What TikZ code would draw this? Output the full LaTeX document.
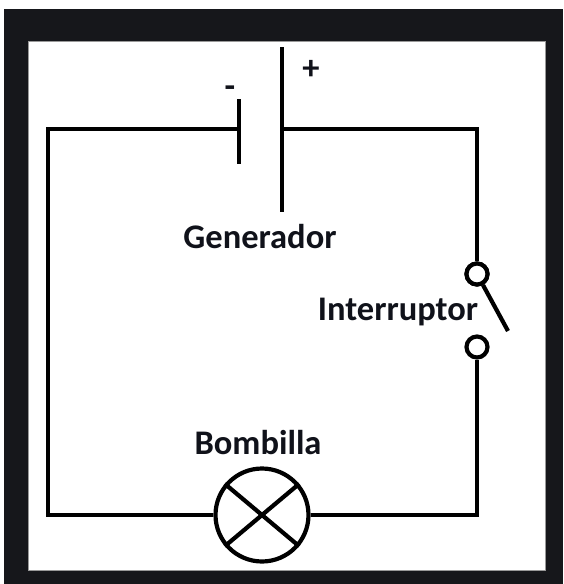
\documentclass[tikz,border=0pt]{standalone}
\usepackage{fontspec}
\setmainfont{Carlito}
\definecolor{framecol}{HTML}{16171B}
\definecolor{textcol}{HTML}{10121A}
\begin{document}
\begin{tikzpicture}[x=1pt,y=-1pt]
\tikzset{
  wire/.style={draw=black, line width=4.2pt, line join=miter},
  label/.style={font=\fontsize{34.5}{38}\selectfont\bfseries, text=textcol, inner sep=0pt, anchor=base},
  terminal/.style={circle, draw=black, line width=4.2pt, fill=white, minimum size=21pt, inner sep=0pt},
  bulb/.style={circle, draw=black, line width=4.2pt, fill=white, minimum size=93pt, inner sep=0pt},
}
\useasboundingbox (0,0) rectangle (563,584);
\fill[white] (0,0) rectangle (563,584);
\fill[framecol] (4,8.5) rectangle (563,584);
\fill[white, draw=black!40, line width=0.6pt] (28,41) rectangle (545,570);
\coordinate (plusTop) at (282,47);
\coordinate (plusBottom) at (282,212);
\coordinate (plusWire) at (282,129);
\coordinate (minusTop) at (239,99);
\coordinate (minusBottom) at (239,164);
\coordinate (minusWire) at (239,129);
\coordinate (cornerA) at (48,129);
\coordinate (cornerB) at (477,129);
\coordinate (cornerC) at (477,515);
\coordinate (cornerD) at (48,515);
\coordinate (armEnd) at (508,331);
\node[terminal] (switchTop) at (477,274) {};
\node[terminal] (switchBottom) at (477,347) {};
\node[bulb] (lamp) at (262,515) {};
\draw[wire] (plusTop) -- (plusBottom);
\draw[wire] (minusTop) -- (minusBottom);
\draw[wire] (minusWire) -- (cornerA) -- (cornerD) -- (lamp);
\draw[wire] (plusWire) -- (cornerB) -- (switchTop);
\draw[wire] (switchBottom) -- (cornerC) -- (lamp);
\draw[wire] (switchTop) -- (armEnd);
\draw[wire] (lamp.40) -- (lamp.220);
\draw[wire] (lamp.140) -- (lamp.320);
\node[terminal] at (switchTop) {};
\node[label] (generador) at (260,248) {Generador};
\node[label] (interruptor) at (398,320) {Interruptor};
\node[label] (bombilla) at (258,454) {Bombilla};
\node[label] (plus) at (311,79) {+};
\node[label] (minus) at (230,97) {-};
\end{tikzpicture}
\end{document}
